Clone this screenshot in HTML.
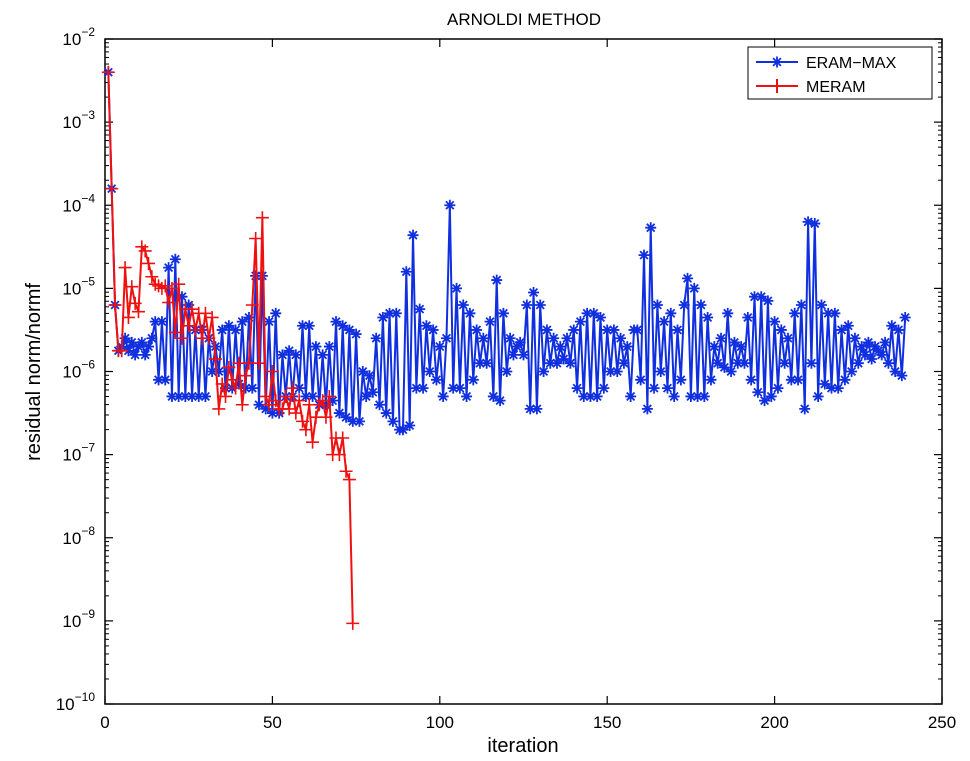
<!DOCTYPE html>
<html><head><meta charset="utf-8"><style>
html,body{margin:0;padding:0;background:#fff;}
svg{display:block;font-family:"Liberation Sans",sans-serif;}
</style></head><body>
<svg id="chart" width="970" height="761" viewBox="0 0 970 761" xmlns="http://www.w3.org/2000/svg">
<text x="524" y="25" font-size="17" text-anchor="middle">ARNOLDI METHOD</text>
<text x="523" y="752" font-size="20" text-anchor="middle">iteration</text>
<text transform="translate(40,372) rotate(-90)" font-size="20" text-anchor="middle">residual norm/normf</text>
<g id="axes"></g>
<g id="series"></g>
<g>
<rect x="748" y="47" width="184" height="52" fill="#fff" stroke="#000" stroke-width="1"/>
<g>
<line x1="756" y1="62" x2="798" y2="62" stroke="#1030e0" stroke-width="2"/>
<g id="lgStar"></g>
<text x="806" y="68" font-size="16">ERAM−MAX</text></g>
<g>
<line x1="756" y1="86" x2="798" y2="86" stroke="#f01010" stroke-width="2"/>
<path d="M777 79V93M770 86H784" stroke="#f01010" stroke-width="2"/>
<text x="806" y="92" font-size="16">MERAM</text></g>
</g>
</svg>
<script>
const xTicks=[0,50,100,150,200,250];
const yTicks=[-10,-9,-8,-7,-6,-5,-4,-3,-2];
const eramLog=[-2.4,-3.8,-5.2,-5.75,
-5.7,-5.6,-5.75,-5.65,-5.8,-5.7,-5.65,-5.8,-5.7,-5.6,
-5.4,-6.1,-5.4,-6.1,
-4.75,-6.3,-4.65,
-6.3,-5.1,-6.3,-5.2,-6.3,
-5.5,-6.3,-5.5,-6.3,
-5.6,-6.0,-5.7,-6.0,
-5.5,-6.2,-5.45,-6.2,-5.5,-6.15,
-5.4,-6.2,-5.35,-6.2,
-4.85,-6.4,-4.85,-6.45,
-5.4,-6.5,-5.3,-6.5,
-5.8,-6.3,-5.75,-6.3,-5.8,-6.2,
-5.45,-6.3,-5.45,-6.3,
-5.7,-6.4,-5.8,-6.4,-5.7,-6.35,
-5.4,-6.5,-5.45,-6.55,
-5.5,-6.6,-5.55,-6.6,
-6.0,-6.3,-6.05,-6.25,
-5.6,-6.4,-5.35,-6.5,-5.3,-6.6,
-5.3,-6.7,-6.7,-4.8,-6.65,-4.36,
-6.2,-5.25,-6.2,-5.45,-6.0,-5.5,-6.1,-5.7,
-6.3,-5.6,-4.0,
-6.2,-5.0,-6.2,-5.2,-6.3,-5.3,-6.1,
-5.5,-5.9,-5.6,-5.9,
-5.4,-6.3,-4.9,-6.35,
-5.3,-6.0,-5.6,-5.8,
-5.7,-5.65,-5.8,-5.2,
-6.45,-5.05,-6.45,-5.2,-6.0,-5.5,-5.9,-5.6,
-5.9,-5.7,-5.85,-5.6,-5.9,-5.5,-6.2,-5.4,
-6.3,-5.3,-6.3,-5.3,-6.3,-5.35,-6.2,-5.5,
-6.0,-5.5,-6.0,-5.6,-5.9,-5.7,-6.3,-5.5,
-5.5,-6.1,-4.6,-6.45,-4.27,
-6.2,-5.2,-6.0,-5.4,-6.2,-5.3,-6.3,
-5.5,-6.1,-5.2,-4.88,-6.3,-5.0,-6.3,-5.2,-6.3,-5.35,
-6.1,-5.7,-5.9,-5.6,-5.95,-5.3,-6.0,-5.65,-5.9,-5.7,
-5.9,-5.35,-6.1,-5.1,-6.25,-5.1,-6.35,-5.15,-6.3,-5.4,
-6.2,-5.5,-5.9,-5.6,-6.1,-5.3,-6.1,-5.2,
-6.45,-4.2,-5.9,-4.22,-6.3,
-5.2,-6.15,-5.3,-6.2,-5.3,-6.2,-5.5,-6.1,-5.45,-6.0,-5.6,-5.9,
-5.7,-5.8,-5.65,-5.85,-5.7,-5.75,-5.8,-5.65,-5.9,-5.45,-6.0,-5.5,-6.05,-5.35];
const meramLog=[-2.4,-3.8,-5.2,-5.75,-5.75,-4.75,-5.35,-4.98,-5.18,-5.28,
-4.5,-4.55,-4.7,-4.86,-4.95,-4.97,-5.0,-4.97,-5.17,-5.0,
-5.53,-4.95,-5.6,-5.25,-5.45,-5.25,-5.5,-5.3,-5.6,-5.3,
-5.6,-5.35,-5.85,-6.45,-6.15,-6.3,-5.95,-6.1,-6.2,-5.9,
-6.4,-6.05,-5.9,-5.2,-4.4,-5.9,-4.15,-6.3,-6.4,-6.0,
-6.35,-6.45,-6.45,-6.3,-6.45,-6.2,-6.5,-6.35,-6.6,-6.7,
-6.4,-6.85,-6.55,-6.4,-6.35,-6.55,-6.3,-7.0,-6.8,-7.0,
-6.8,-7.2,-7.3,-9.03];

const NS="http://www.w3.org/2000/svg";
const L=105,R=942,T=39,B=704;
const xs=v=>L+(v-0)/(250-0)*(R-L);
const ys=e=>B-(e-(-10))/((-2)-(-10))*(B-T);
function mk(tag,attrs,parent){const e=document.createElementNS(NS,tag);for(const k in attrs)e.setAttribute(k,attrs[k]);parent.appendChild(e);return e;}
const axes=document.getElementById('axes');
const frame=mk('rect',{x:L,y:T,width:R-L,height:B-T,fill:'none',stroke:'#000','stroke-width':1.5},axes);


xTicks.forEach(t=>{
  const x=xs(t);
  mk('line',{x1:x,y1:B,x2:x,y2:B-8,stroke:'#000','stroke-width':1.2},axes);
  mk('line',{x1:x,y1:T,x2:x,y2:T+8,stroke:'#000','stroke-width':1.2},axes);
  const tx=mk('text',{x:x,y:B+24,'font-size':17,'text-anchor':'middle'},axes);
  tx.textContent=t;
  
  
});
yTicks.forEach(t=>{
  const y=ys(t);
  mk('line',{x1:L,y1:y,x2:L+8,y2:y,stroke:'#000','stroke-width':1.2},axes);
  mk('line',{x1:R,y1:y,x2:R-8,y2:y,stroke:'#000','stroke-width':1.2},axes);
  if(t<-2){for(let m=2;m<=9;m++){const yy=ys(t+Math.log10(m));
    mk('line',{x1:L,y1:yy,x2:L+4,y2:yy,stroke:'#000','stroke-width':1},axes);
    mk('line',{x1:R,y1:yy,x2:R-4,y2:yy,stroke:'#000','stroke-width':1},axes);}}
  const tx=mk('text',{x:L-10,y:y+6,'font-size':17,'text-anchor':'end'},axes);
  
  
  tx.textContent='10';
  const sp=mk('tspan',{dy:-9,'font-size':12},tx);sp.textContent=String(t).replace('-','−');
});
const ser=document.getElementById('series');
function star(g,x,y,c){
  const r=5.5;let d='';
  for(let k=0;k<4;k++){const a=k*Math.PI/4;d+=`M${x-r*Math.cos(a)} ${y-r*Math.sin(a)}L${x+r*Math.cos(a)} ${y+r*Math.sin(a)}`;}
  mk('path',{d:d,stroke:c,'stroke-width':1.8,fill:'none'},g);
}
function plus(g,x,y,c){
  const r=6.5;
  mk('path',{d:`M${x-r} ${y}H${x+r}M${x} ${y-r}V${y+r}`,stroke:c,'stroke-width':1.6,fill:'none'},g);
}
const gE=mk('g',{},ser);


const ptsE=eramLog.map((v,i)=>[xs(i+1),ys(v)]);
mk('polyline',{points:ptsE.map(p=>p.join(',')).join(' '),fill:'none',stroke:'#1030e0','stroke-width':2},gE);
ptsE.forEach(p=>star(gE,p[0],p[1],'#1030e0'));
const gM=mk('g',{},ser);


const ptsM=meramLog.map((v,i)=>[xs(i+1),ys(v)]);
mk('polyline',{points:ptsM.map(p=>p.join(',')).join(' '),fill:'none',stroke:'#f01010','stroke-width':2},gM);
ptsM.forEach(p=>plus(gM,p[0],p[1],'#f01010'));
star(document.getElementById('lgStar'),777,62,'#1030e0');
</script>
</body></html>
